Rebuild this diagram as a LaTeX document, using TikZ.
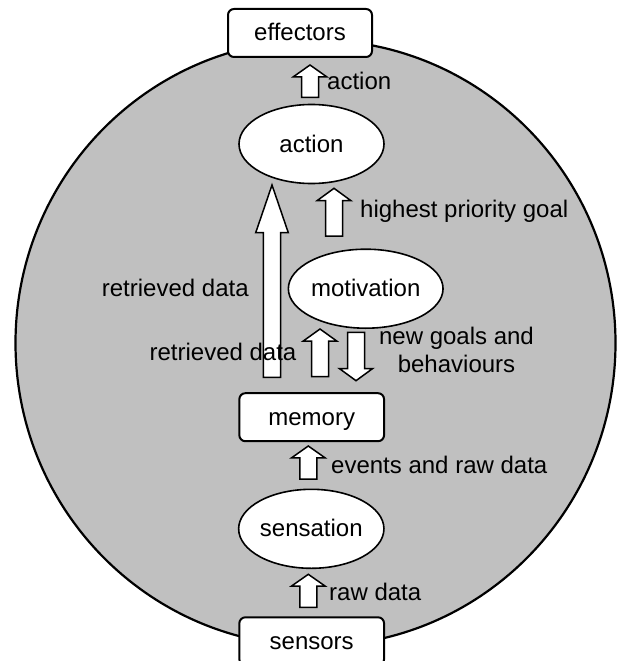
\documentclass[tikz,border=0pt]{standalone}
\usepackage{fontspec}
\setmainfont{Liberation Sans}
\usetikzlibrary{shapes.geometric}
\definecolor{bodygray}{RGB}{192,192,192}
% block arrow: x, tip y, head-base y, tail y, half head width, half shaft width
\newcommand\blkarrow[6]{%
  \draw[blk] (#1,#2) -- (#1+#5,#3) -- (#1+#6,#3) -- (#1+#6,#4) -- (#1-#6,#4)
    -- (#1-#6,#3) -- (#1-#5,#3) -- cycle;}
\begin{document}
\begin{tikzpicture}[x=1pt,y=-1pt,
  every node/.style={font=\fontsize{24}{28}\selectfont, text height=18pt, text depth=2pt, inner sep=0pt},
  box/.style={draw, line width=2pt, fill=white, rounded corners=6pt, minimum width=144pt, minimum height=48pt},
  oval/.style={ellipse, draw, line width=1.6pt, fill=white, minimum width=145pt, minimum height=79pt},
  lbl/.style={anchor=base west},
  clbl/.style={anchor=base},
  blk/.style={draw, line width=1.5pt, fill=white, line join=miter}]
\useasboundingbox (0,0) rectangle (618,661);
\clip (0,0) rectangle (618,661);
\fill[white] (0,0) rectangle (618,661);
% body
\node (body) [ellipse, draw, line width=2.2pt, fill=bodygray, minimum width=600pt, minimum height=606pt] at (315.5,343) {};
% block arrows
\blkarrow{310}{65}{76.8}{97.3}{16.7}{8.5}
\blkarrow{334}{188.3}{200.5}{236}{16.7}{8.5}
\blkarrow{320}{329}{341}{376.7}{16.7}{8.5}
\blkarrow{356}{380.7}{368.5}{332.3}{16.7}{8.5}
\blkarrow{308.3}{446}{457.8}{479}{16.7}{8.5}
\blkarrow{308.3}{574.3}{586}{607.3}{16.7}{8.5}
\blkarrow{272}{185}{232.7}{377.3}{16.3}{8.7}
% boxes and ovals
\node (effectors) [box] at (300,33) {effectors};
\node (action) [oval] at (311.5,144) {action};
\node (motivation) [oval] at (365.7,288.7) {motivation};
\node (memory) [box, minimum width=144.7pt] at (311.7,417.2) {memory};
\node (sensation) [oval] at (311.3,528.8) {sensation};
\node (sensors) [box, minimum width=144.7pt] at (311.7,641.3) {sensors};
% labels
\node (l1) [lbl] at (327,89.3) {action};
\node (l2) [lbl] at (360,217.3) {highest priority goal};
\node (l3) [lbl] at (101.7,296.7) {retrieved data};
\node (l4) [lbl] at (149.4,360) {retrieved data};
\node (l5) [clbl] at (456.5,344) {new goals and};
\node (l6) [clbl] at (456.5,372) {behaviours};
\node (l7) [lbl] at (331,473.3) {events and raw data};
\node (l8) [lbl] at (329,600.7) {raw data};
\end{tikzpicture}
\end{document}
